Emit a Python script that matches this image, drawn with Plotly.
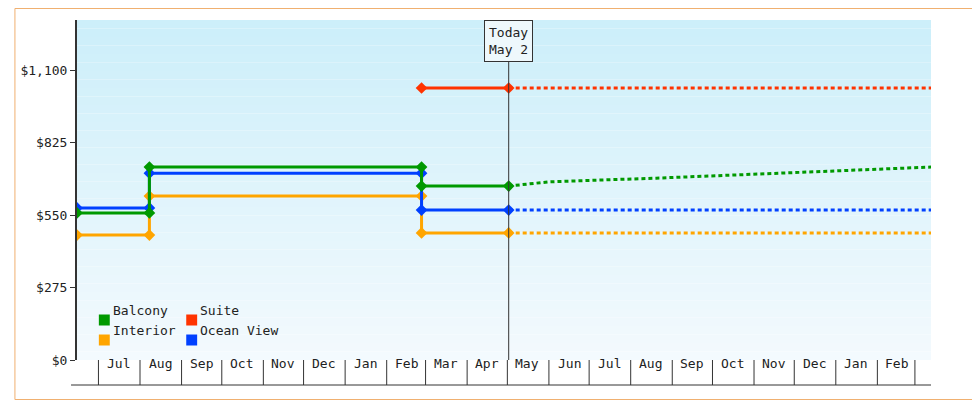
import plotly.graph_objects as go
import pandas as pd

# ---- data ----
change_dates = ["2023-06-15", "2023-08-08", "2024-02-27", "2024-05-02"]
today = "2024-05-02"
end_date = "2025-03-13"
balcony = [558, 732, 660]
ocean = [577, 709, 569]
interior = [474, 622, 482]
suite_start = "2024-02-27"
suite_val = 1032
balcony_fc_dates = ["2024-05-02", "2024-06-01", "2024-08-20", "2024-10-20", "2025-01-10", "2025-03-13"]
balcony_fc_vals = [660, 676, 690, 702, 718, 732]
month_labels = ["Jul","Aug","Sep","Oct","Nov","Dec","Jan","Feb","Mar","Apr","May","Jun",
                "Jul","Aug","Sep","Oct","Nov","Dec","Jan","Feb"]
month_starts = pd.date_range("2023-07-01", "2025-03-01", freq="MS")
yticks = [0, 275, 550, 825, 1100]
ytick_text = ["&#36;0", "&#36;275", "&#36;550", "&#36;825", "&#36;1,100"]

colors = {"Balcony": "#009900", "Interior": "#ffa500", "Ocean View": "#0040ff", "Suite": "#ff3300"}
FONT = "DejaVu Sans Mono"
DASH = "4px,3px"

def step(vals):
    d = change_dates
    xs = [d[0], d[1], d[1], d[2], d[2], d[3]]
    ys = [vals[0], vals[0], vals[1], vals[1], vals[2], vals[2]]
    return xs, ys

fig = go.Figure()
for name, vals in [("Interior", interior), ("Ocean View", ocean), ("Balcony", balcony)]:
    xs, ys = step(vals)
    fig.add_trace(go.Scatter(x=xs, y=ys, mode="lines+markers", line=dict(color=colors[name], width=3),
                             marker=dict(symbol="diamond", size=9), showlegend=False))
fig.add_trace(go.Scatter(x=[suite_start, today], y=[suite_val, suite_val], mode="lines+markers",
                         line=dict(color=colors["Suite"], width=3), marker=dict(symbol="diamond", size=9), showlegend=False))
for name, v in [("Interior", interior[-1]), ("Ocean View", ocean[-1]), ("Suite", suite_val)]:
    fig.add_trace(go.Scatter(x=[today, end_date], y=[v, v], mode="lines",
                             line=dict(color=colors[name], width=3, dash=DASH), showlegend=False))
fig.add_trace(go.Scatter(x=balcony_fc_dates, y=balcony_fc_vals, mode="lines",
                         line=dict(color=colors["Balcony"], width=3, dash=DASH), showlegend=False))

shapes = []
N = 40
top = (205, 239, 250); bot = (243, 250, 254)
for i in range(N):
    t = i / (N - 1)
    c = tuple(int(top[k] + (bot[k] - top[k]) * t) for k in range(3))
    shapes.append(dict(type="rect", xref="x domain", yref="y domain", x0=0, x1=1,
                       y0=1 - (i + 1) / N, y1=1 - i / N, fillcolor="rgb(%d,%d,%d)" % c,
                       line=dict(width=0), layer="below"))
for m in month_starts:
    shapes.append(dict(type="line", xref="x", yref="paper", x0=m, x1=m, y0=-25/340, y1=0,
                       line=dict(color="#333", width=1)))
shapes.append(dict(type="line", xref="paper", yref="paper", x0=-6/860, x1=1, y0=-25/340, y1=-25/340,
                   line=dict(color="#333", width=1)))
shapes.append(dict(type="line", xref="x", yref="paper", x0=today, x1=today, y0=0, y1=(360-60)/340,
                   line=dict(color="#333", width=1)))
# outer border (right/bottom visible within the figure)
shapes.append(dict(type="rect", xref="paper", yref="paper", x0=-62.5/860, x1=(971.5-63)/860,
                   y0=-39.5/340, y1=(352-0.5)/340, line=dict(color="#f0b070", width=1)))

annotations = []
for lbl, m in zip(month_labels, month_starts):
    mid = m + pd.Timedelta(days=15)
    annotations.append(dict(x=mid, y=-12.5/340, xref="x", yref="paper", text=lbl, showarrow=False,
                            font=dict(family=FONT, size=13, color="#222")))
annotations.append(dict(x=today, y=1, xref="x", yref="paper", yanchor="top", text="Today<br>May 2",
                        showarrow=False, bgcolor="#eef8fc", bordercolor="#333", borderwidth=1, borderpad=4,
                        font=dict(family=FONT, size=13, color="#222")))
leg = [("Balcony", 93, 320), ("Suite", 181, 320), ("Interior", 93, 340), ("Ocean View", 181, 340)]
for name, px, py in leg:
    shapes.append(dict(type="rect", xref="paper", yref="paper", x0=(px-71)/860, x1=(px+11-71)/860,
                       y0=(360-py-5.5)/340, y1=(360-py+5.5)/340, fillcolor=colors[name], line=dict(width=0)))
    annotations.append(dict(x=(px+12-71)/860, y=(360-py)/340, xref="paper", yref="paper", xanchor="left",
                            text=name, showarrow=False, font=dict(family=FONT, size=13, color="#222")))

fig.update_layout(
    width=972, height=392, margin=dict(l=63, r=49, t=12, b=40),
    paper_bgcolor="white", plot_bgcolor="rgba(0,0,0,0)",
    shapes=shapes, annotations=annotations, showlegend=False,
    font=dict(family=FONT, size=13, color="#222"),
    xaxis=dict(range=["2023-06-15", end_date], showticklabels=False, ticks="", showgrid=False, zeroline=False),
    yaxis=dict(range=[0, 1290], tickvals=yticks, ticktext=ytick_text, ticks="outside", ticklen=5,
               tickcolor="#333", showline=True, linecolor="#333", linewidth=2, showgrid=False, zeroline=False),
)
fig.write_html("out.html")
